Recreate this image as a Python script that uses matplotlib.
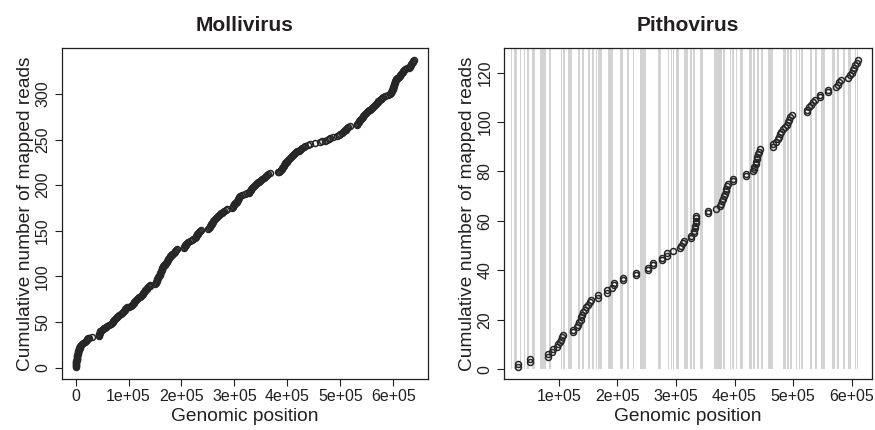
import numpy as np
import matplotlib
matplotlib.use('Agg')
import matplotlib.pyplot as plt
from matplotlib.ticker import FuncFormatter

plt.rcParams['font.family'] = ['Liberation Sans', 'DejaVu Sans']

# Mollivirus: read positions (kb), one per mapped read, in order
molli_pos = [
    0, 0, 0, 1, 1, 1, 1, 2, 2, 2, 2, 3, 3,
    3, 4, 4, 5, 5, 6, 6, 7, 8, 8, 9,
    10, 12, 14, 17, 20, 21, 22, 24, 25, 31,
    44, 45, 45, 46, 46, 47, 49, 51, 53, 55, 57, 60, 63, 66,
    68, 70, 71, 73, 75, 76, 78, 79, 81, 82, 85, 88,
    90, 91, 93, 94, 95, 97, 100, 104, 107,
    108, 110, 111, 113, 114, 116, 118, 120, 122, 124, 126,
    127, 128, 130, 131, 132, 134, 135, 136, 138, 140, 141, 150,
    151, 152, 153, 154, 154, 155, 156, 157,
    158, 159, 160, 160, 161, 162, 163, 164, 164, 165, 166,
    167, 168, 169, 170, 172, 173, 174, 175, 176, 178, 179,
    180, 182, 183, 185, 187, 188, 190, 192, 204,
    205, 206, 207, 208, 209, 210, 213, 216, 219, 222, 226,
    227, 228, 229, 230, 231, 232, 233, 234, 236, 250, 252,
    253, 254, 255, 256, 257, 258, 259, 260, 261,
    263, 265, 267, 269, 271, 273, 275, 277, 279, 281, 284, 286,
    296, 297, 298, 299, 300, 301, 303, 304, 305, 306, 307, 308, 309, 311,
    315, 319, 323, 327, 328, 329, 331, 332, 333, 335, 336,
    338, 340, 342, 344, 346, 348, 350, 352, 355, 358, 360, 362, 364, 367,
    383, 384, 386, 387, 389, 390, 391, 393,
    394, 395, 396, 398, 399, 400, 402, 403, 405,
    407, 409, 411, 413, 415, 417, 419, 421, 424, 426, 428, 431, 433,
    438, 443, 452, 462, 466, 471, 475, 478, 481, 487, 493, 497, 500, 503,
    505, 507, 508, 510, 511, 512, 515, 518,
    531, 532, 534, 535, 536, 537, 538, 539, 540, 542, 543,
    545, 547, 549, 551, 553, 554, 556, 558, 560, 562, 564, 566, 567, 569,
    571, 572, 574, 576, 577, 579, 581, 585, 590, 594, 595, 596, 597,
    598, 599, 599, 600, 600, 601, 602, 602, 603, 604, 604, 605, 606,
    607, 609, 610, 612, 613, 615, 616, 618, 619, 620, 622,
    626, 629, 631, 632, 633, 634, 635, 637, 638, 640,
]

# Pithovirus: read positions (kb)
pitho_pos = [
    30, 30, 50, 50, 81, 81, 89, 90, 97, 98,
    102, 104, 105, 107, 124, 124,
    131, 133, 135, 137, 138, 140, 142, 144, 146, 150, 154, 155,
    167, 167, 183, 183, 190, 195, 195, 210, 210, 232, 232,
    252, 252, 261, 261, 277, 277, 284, 284, 295, 307, 308, 312, 313,
    326, 326, 330, 331, 332, 333, 334, 334, 335, 335, 355, 355, 369,
    375, 377, 378, 380, 382, 384, 385, 386, 388, 389, 397, 397, 419, 419,
    431, 433, 434, 436, 437, 438, 439, 440, 441, 443, 466, 466,
    471, 474, 476, 478, 480, 483, 486, 489, 491, 493, 495, 498,
    523, 523, 528, 531, 534, 537, 546, 546, 560, 560,
    574, 576, 579, 582, 594, 597, 600, 602, 604, 606, 609, 611,
]

# grey regions in the Pithovirus genome (kb)
region_start = [18.6, 24.2, 34.0, 41.3, 46.0, 54.5, 68.2, 82.4, 103.4, 106.8,
                114.9, 132.0, 140.0, 149.1, 156.4, 162.8, 167.4, 183.3, 205.0,
                215.8, 226.6, 238.0, 268.8, 287.1, 291.0, 294.5, 299.6, 314.5,
                324.7, 329.9, 340.6, 364.6, 380.5, 392.0, 395.9, 401.7, 409.1,
                424.4, 431.8, 437.6, 444.5, 456.9, 482.1, 490.0, 494.6, 504.8,
                510.0, 513.4, 528.8, 537.3, 547.6, 565.9, 574.4, 585.7, 593.3,
                605.7, 609.2]
region_end = [20.8, 27.7, 35.7, 43.0, 48.2, 60.1, 77.3, 87.0, 105.8, 110.3,
              121.7, 136.6, 142.2, 152.5, 159.3, 165.0, 174.2, 192.4, 209.5,
              220.4, 228.3, 248.3, 275.1, 288.8, 292.8, 296.2, 304.7, 321.3,
              328.2, 333.3, 347.0, 377.8, 382.9, 394.2, 398.3, 403.9, 413.7,
              429.1, 434.2, 442.1, 447.9, 465.5, 487.2, 492.3, 498.5, 507.1,
              511.7, 516.3, 532.2, 540.7, 553.9, 571.5, 578.4, 588.6, 598.4,
              607.4, 610.9]

INK = '#231f20'


def r_lim(v):
    # R style axis range: data range extended by 4% on each side
    lo, hi = min(v), max(v)
    d = (hi - lo) * 0.04
    return lo - d, hi + d


def sci_fmt(v, pos):
    if v == 0:
        return '0'
    return f'{int(round(v / 1e5))}e+05'


def style_ax(ax, title, xticks, yticks):
    ax.set_title(title, fontsize=15, fontweight='bold', color=INK, pad=12)
    ax.set_xlabel('Genomic position', fontsize=13.8, color=INK)
    ax.set_ylabel('Cumulative number of mapped reads', fontsize=13.8, color=INK)
    ax.xaxis.set_label_coords(0.5, -0.112)
    ax.xaxis.label.set_va('center')
    ax.yaxis.set_label_coords(-0.10, 0.5)
    ax.yaxis.label.set_va('center')
    ax.set_xticks(xticks)
    ax.xaxis.set_major_formatter(FuncFormatter(sci_fmt))
    ax.set_yticks(yticks)
    ax.tick_params(direction='out', length=5, width=0.8, colors=INK,
                   labelsize=11.5)
    ax.tick_params(axis='x', pad=2.5)
    ax.tick_params(axis='y', pad=3.5)
    for lbl in ax.get_yticklabels():
        lbl.set_rotation(90)
        lbl.set_va('center')
    for sp in ax.spines.values():
        sp.set_linewidth(0.9)
        sp.set_color(INK)


fig = plt.figure(figsize=(8.75, 4.3), dpi=100)
ax1 = fig.add_axes([0.0709, 0.1186, 0.4183, 0.7698])
ax2 = fig.add_axes([0.5763, 0.1186, 0.4199, 0.7698])

mk = dict(marker='o', linestyle='none', markersize=4.3, markerfacecolor='none',
          markeredgecolor='#262626', markeredgewidth=1.1)

# Mollivirus
mx = np.array(molli_pos) * 1000.0
my = np.arange(1, len(mx) + 1)
ax1.plot(mx, my, **mk)
ax1.set_xlim(r_lim(mx))
ax1.set_ylim(r_lim(my))
style_ax(ax1, 'Mollivirus', np.arange(0, 7) * 1e5, np.arange(0, 301, 50))

# Pithovirus
px = np.array(pitho_pos) * 1000.0
py = np.arange(1, len(px) + 1)
rs = np.array(region_start) * 1000.0
re_ = np.array(region_end) * 1000.0
ax2.bar(rs, 1000, width=re_ - rs, bottom=0, align='edge', color='#d3d3d3',
        linewidth=0, zorder=1)
ax2.plot(px, py, zorder=3, **mk)
ax2.set_xlim(r_lim(px))
ax2.set_ylim(r_lim(py))
style_ax(ax2, 'Pithovirus', np.arange(1, 7) * 1e5, np.arange(0, 121, 20))

fig.savefig('out.png', dpi=100)
